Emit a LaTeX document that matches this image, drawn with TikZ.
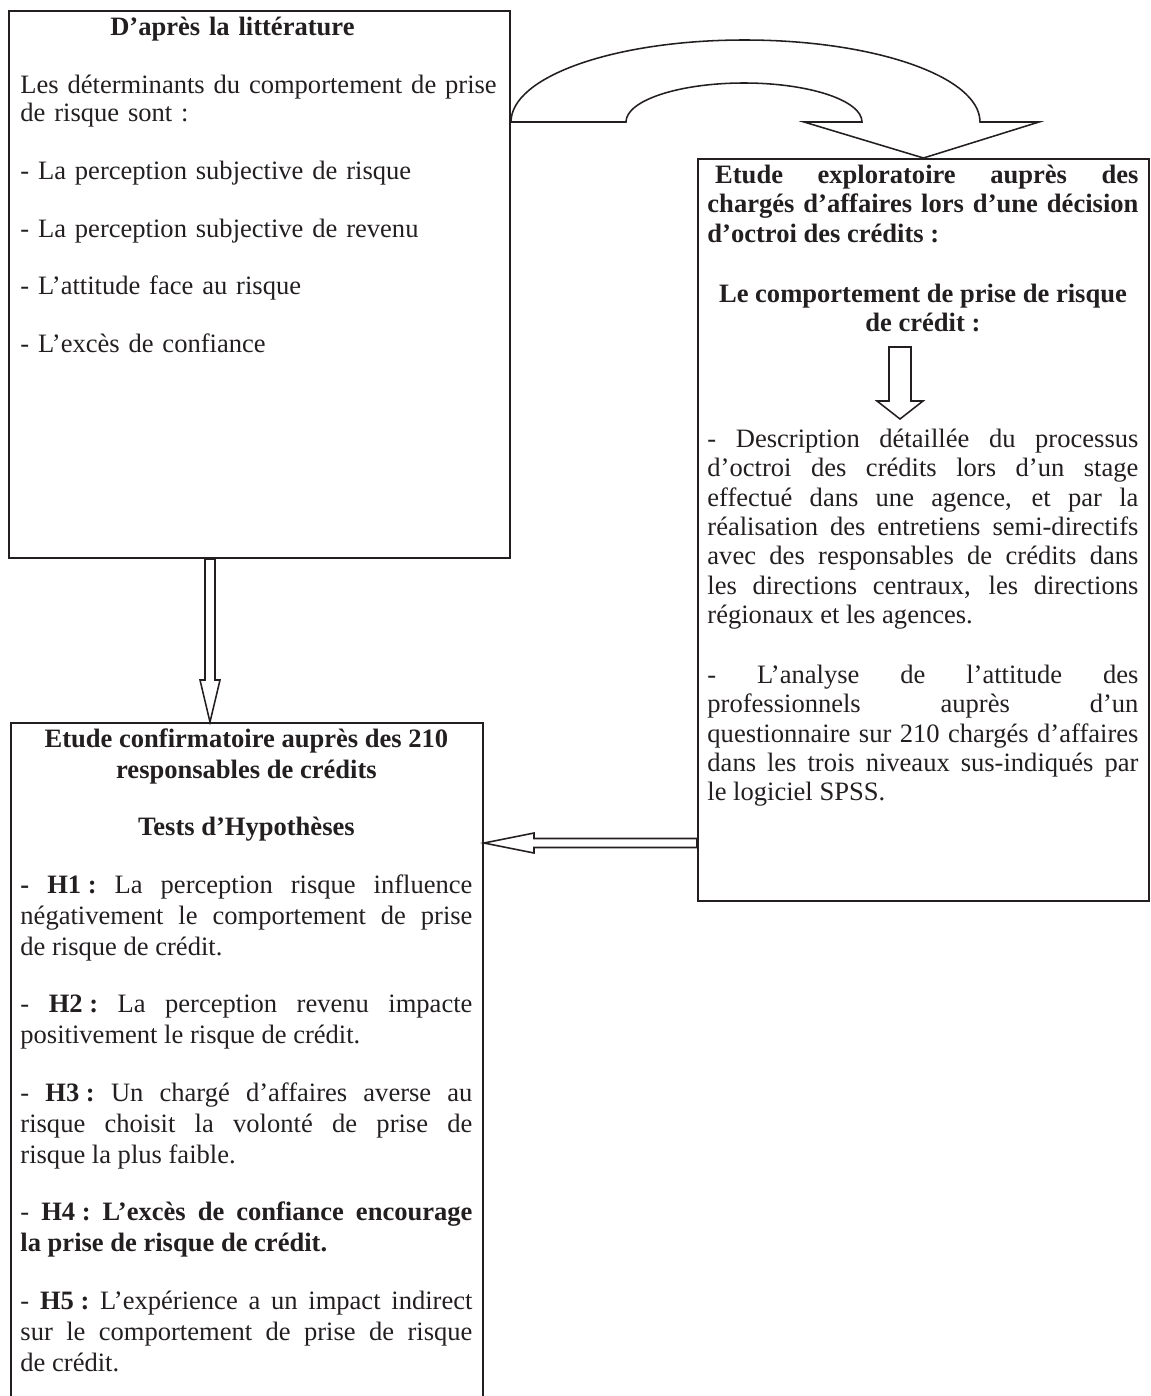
\documentclass[tikz,border=0pt]{standalone}
\usepackage{fontspec}
\setmainfont{Liberation Serif}
\usetikzlibrary{calc}

\definecolor{ink}{HTML}{231F20}
\def\px{0.452pt}
\newcommand{\topline}{\rule{0pt}{10pt}}

\newcommand{\blockdown}[5] % {from}{to}{shaft}{head}{head length}
{
 \draw[hollow] let \p1=(#1), \p2=(#2) in
   (\x1-#3*\px,\y1) -- (\x1-#3*\px,\y2+#5*\px) -- (\x1-#4*\px,\y2+#5*\px)
   -- (\x1,\y2) -- (\x1+#4*\px,\y2+#5*\px) -- (\x1+#3*\px,\y2+#5*\px)
   -- (\x1+#3*\px,\y1) -- cycle;
}

\newcommand{\blockleft}[5] % {from}{to}{shaft}{head}{head length}
{
 \draw[hollow] let \p1=(#1), \p2=(#2) in
   (\x1,\y1+#3*\px) -- (\x2+#5*\px,\y1+#3*\px) -- (\x2+#5*\px,\y1+#4*\px)
   -- (\x2,\y1) -- (\x2+#5*\px,\y1-#4*\px) -- (\x2+#5*\px,\y1-#3*\px)
   -- (\x1,\y1-#3*\px) -- cycle;
}

\tikzset{
  boxframe/.style={draw=ink, line width=0.9pt, inner sep=0pt, anchor=north west},
  hollow/.style={draw=ink, line width=0.7pt, fill=white},
  txt/.style={inner sep=0pt, anchor=north west, text=ink},
}

\begin{document}
\begin{tikzpicture}[x=\px, y=-\px]

\useasboundingbox (0,0) rectangle (1151,1396);
\clip (0,0) rectangle (1151,1396);

% the three boxes
\node[boxframe, minimum width={501*\px}, minimum height={547*\px}] (litt) at (8,10) {};
\node[boxframe, minimum width={451*\px}, minimum height={742*\px}] (explo) at (697,158) {};
\node[boxframe, minimum width={472*\px}, minimum height={700*\px}] (confirm) at (10,722) {};

% texts
\node[txt, text width=216pt, align=left, font=\fontsize{12}{12.9}\selectfont,
      execute at begin node={\setlength{\parindent}{0pt}\setlength{\parskip}{13.2pt}}]
  (litttext) at ($(litt.north west)+(12,2.9)$) {%
  {\centering\topline\textbf{D’après la littérature}\hspace*{24.4pt}\par}
  Les déterminants du comportement de prise\newline de risque sont~:\par
  - La perception subjective de risque\par
  - La perception subjective de revenu\par
  - L’attitude face au risque\par
  - L’excès de confiance\par};

\node[txt, text width=194.8pt, align=justify, font=\fontsize{12}{13.3}\selectfont,
      execute at begin node={\setlength{\parindent}{0pt}\setlength{\parskip}{13.8pt}\tolerance=10000}]
  (explohead) at ($(explo.north west)+(10,2.9)$) {%
  \topline\hspace*{3.5pt}\textbf{Etude exploratoire auprès des\linebreak
  chargés d’affaires lors d’une décision\linebreak
  d’octroi des crédits~:}\par
  {\centering\textbf{Le comportement de prise de risque\\ de crédit~:}\par}};

\node[txt, text width=194.8pt, align=justify, font=\fontsize{12}{13.25}\selectfont,
      execute at begin node={\setlength{\parindent}{0pt}\setlength{\parskip}{13.9pt}\tolerance=10000}]
  (explobody) at ($(explo.north west)+(10,266.9)$) {%
  \topline- Description détaillée du processus\linebreak
  d’octroi des crédits lors d’un stage\linebreak
  effectué dans une agence, et par la\linebreak
  réalisation des entretiens semi-directifs\linebreak
  avec des responsables de crédits dans\linebreak
  les directions centraux, les directions\linebreak
  régionaux et les agences.\par
  - L’analyse de l’attitude des\linebreak
  professionnels auprès d’un\linebreak
  questionnaire sur 210 chargés d’affaires\linebreak
  dans les trois niveaux sus-indiqués par\linebreak
  le logiciel SPSS.\par};

\node[txt, text width=204.3pt, align=justify, font=\fontsize{12}{14}\selectfont,
      execute at begin node={\setlength{\parindent}{0pt}\setlength{\parskip}{12pt}\tolerance=10000}]
  (confirmtext) at ($(confirm.north west)+(10,2.9)$) {%
  {\centering\topline\textbf{Etude confirmatoire auprès des 210\\ responsables de crédits}\par}
  {\centering\textbf{Tests d’Hypothèses}\par}
  \textbf{- \mbox{H1 :}} La perception risque influence\linebreak
  négativement le comportement de prise\linebreak
  de risque de crédit.\par
  - \textbf{\mbox{H2 :}} La perception revenu impacte\linebreak
  positivement le risque de crédit.\par
  - \textbf{\mbox{H3 :}} Un chargé d’affaires averse au\linebreak
  risque choisit la volonté de prise de\linebreak
  risque la plus faible.\par
  - \textbf{\mbox{H4 :} L’excès de confiance encourage\linebreak
  la prise de risque de crédit.}\par
  - \textbf{\mbox{H5 :}} L’expérience a un impact indirect\linebreak
  sur le comportement de prise de risque\linebreak
  de crédit.\par};

% bent arrow from the literature to the exploratory study
\coordinate (bendstart) at ($(litt.north east)+(0,112)$);
\draw[hollow] (bendstart) .. controls +(0,-45.3) and (614.4,40) .. (744.5,40)
  .. controls (874.6,40) and (980,76.7) .. (980,122) -- (1039,122) -- (explo.north)
  -- (804,122) -- (862,122) .. controls (862,100.5) and (809.2,83) .. (744,83)
  .. controls (678.8,83) and (626,100.5) .. (626,122) -- cycle;

% straight arrows
\coordinate (explotop) at ($(explo.north west)+(203,189)$);
\coordinate (explotip) at ($(explo.north west)+(203,261)$);
\blockdown{explotop}{explotip}{11}{23}{18}
\blockdown{$(litt.south west)+(202,0)$}{$(confirm.north west)+(200,0)$}{5}{10}{42}
\blockleft{$(explo.north west)+(0,685)$}{$(confirm.north east)+(0,121)$}{4.5}{10}{50}

\end{tikzpicture}
\end{document}
